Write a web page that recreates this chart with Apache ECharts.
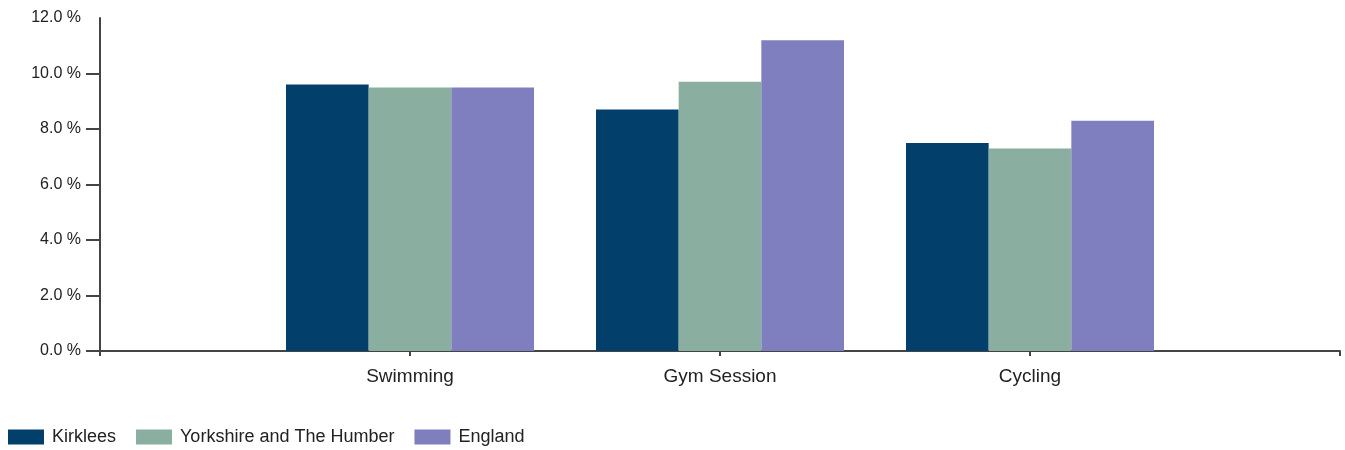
<!DOCTYPE html>
<html>
<head>
<meta charset="utf-8">
<script src="https://cdn.jsdelivr.net/npm/echarts@6/dist/echarts.min.js"></script>
<style>
html,body{margin:0;padding:0;background:#fff;}
#chart{width:1345px;height:450px;}
</style>
</head>
<body>
<div id="chart"></div>
<script>
var categories = ['', 'Swimming', 'Gym Session', 'Cycling', ''];
var seriesNames = ['Kirklees', 'Yorkshire and The Humber', 'England'];
var kirklees = [null, 9.6, 8.7, 7.5, null];
var yorkshire = [null, 9.5, 9.7, 7.3, null];
var england = [null, 9.5, 11.2, 8.3, null];
var yTicks = [0, 2, 4, 6, 8, 10, 12];
var colors = ['#023f6a', '#8aaea0', '#7f7fbf'];

var chart = echarts.init(document.getElementById('chart'), null, {renderer: 'canvas'});
var font = 'Liberation Sans, Arial, sans-serif';
var allData = [kirklees, yorkshire, england];
chart.setOption({
  animation: false,
  color: colors,
  grid: {left: 100, right: 5, top: 18, bottom: 99, containLabel: false},
  legend: {
    left: 3, top: 423,
    itemWidth: 36, itemHeight: 15, itemGap: 20,
    icon: 'rect',
    textStyle: {fontFamily: font, fontSize: 18, color: '#222', padding: [0, 0, 0, 3]},
    data: seriesNames
  },
  xAxis: {
    type: 'category',
    data: categories,
    boundaryGap: false,
    axisLine: {lineStyle: {color: '#444', width: 2}},
    axisTick: {show: true, length: 5, lineStyle: {color: '#444', width: 2}},
    axisLabel: {fontFamily: font, fontSize: 19, color: '#222', margin: 16}
  },
  yAxis: {
    type: 'value',
    min: yTicks[0], max: yTicks[yTicks.length - 1], interval: 2,
    splitLine: {show: false},
    axisLine: {show: true, lineStyle: {color: '#444', width: 2}},
    axisTick: {show: true, length: 14, lineStyle: {color: '#444', width: 2}, customValues: yTicks.slice(0, -1)},
    axisLabel: {fontFamily: font, fontSize: 16, color: '#222', margin: 19,
      formatter: function (v) { return v.toFixed(1) + ' %'; }}
  },
  series: seriesNames.map(function (n, i) {
    return {
      name: n, type: 'bar', data: allData[i],
      barGap: '0%', barCategoryGap: '20%'
    };
  })
});
</script>
</body>
</html>
